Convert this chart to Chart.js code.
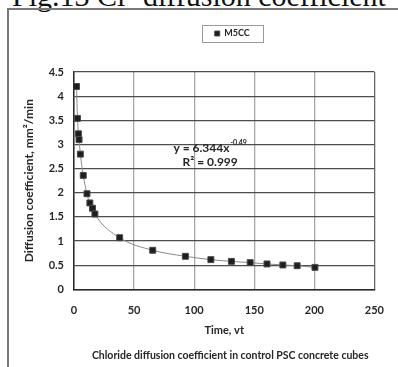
<!DOCTYPE html>
<html>
<head>
<meta charset="utf-8">
<script src="https://cdn.jsdelivr.net/npm/chart.js@4/dist/chart.umd.min.js"></script>
<style>
  html, body { margin: 0; padding: 0; background: #fff; }
  #wrap { position: relative; width: 398px; height: 367px; overflow: hidden; }
  #heading {
    position: absolute; left: 0; width: 398px; top: -21px;
    text-align: center; font: 30px "Liberation Serif", "DejaVu Serif", serif; color: #111;
    white-space: nowrap;
  }
  #frame {
    position: absolute; left: 7px; top: 8px; right: -5px; bottom: -5px;
    border-left: 2px solid #7a7a7a; border-top: 2px solid #7a7a7a;
  }
  canvas { position: absolute; left: 0; top: 0; }
</style>
</head>
<body>
<div id="wrap">
  <div id="heading">Fig.13 Cl- diffusion coefficient</div>
  <div id="frame"></div>
  <canvas id="c" width="398" height="367"></canvas>
</div>
<script>
// Time (vt) and measured chloride diffusion coefficient (mm²/min)
const seriesName = 'M5CC';
const timeValues = [2.1, 2.9, 3.7, 4.2, 5.3, 7.7, 10.8, 13.2, 15.4, 17.4, 38, 65.5, 92.7, 113.9, 131, 146.6, 160.6, 173.8, 185.7, 200.5];
const coeffValues = [4.2, 3.54, 3.22, 3.1, 2.8, 2.36, 1.98, 1.79, 1.68, 1.56, 1.07, 0.81, 0.685, 0.616, 0.58, 0.554, 0.527, 0.506, 0.49, 0.456];
const xTicks = [0, 50, 100, 150, 200, 250];
const yTicks = [0, 0.5, 1, 1.5, 2, 2.5, 3, 3.5, 4, 4.5];
const fitLines = ['y = 6.344x', '-0.49', 'R\u00B2 = 0.999'];
const xTitle = 'Time, vt';
const yTitle = 'Diffusion coefficient, mm\u00B2/min';
const caption = 'Chloride diffusion coefficient in control PSC concrete cubes';

const FONT = 'Lato, "Liberation Sans", Arial, sans-serif';
const TXT = '#262626';
const LEGEND_SHIFT = 8;
const CAPTION_SHIFT = 6;

const points = timeValues.map((t, i) => ({ x: t, y: coeffValues[i] }));

// Draw a layout box shifted sideways by dx pixels
function nudge(chart, box, dx) {
  const draw = box.draw.bind(box);
  box.draw = function () {
    const ctx = chart.ctx;
    ctx.save();
    ctx.translate(dx, 0);
    draw();
    ctx.restore();
  };
}

// Extra room under the legend, and small sideways nudges of legend and caption
const boxTweaks = {
  id: 'boxTweaks',
  beforeUpdate(chart) {
    const lg = chart.legend;
    if (lg && !lg._tweaked) {
      const fit = lg.fit.bind(lg);
      lg.fit = function () { fit(); this.height += 24; };
      nudge(chart, lg, LEGEND_SHIFT);
      lg._tweaked = true;
    }
    const tt = chart.titleBlock;
    if (tt && !tt._tweaked) {
      nudge(chart, tt, CAPTION_SHIFT);
      tt._tweaked = true;
    }
  }
};

// Border around the legend entry
const legendBox = {
  id: 'legendBox',
  afterDraw(chart) {
    const lg = chart.legend;
    if (!lg || !lg.legendHitBoxes || !lg.legendHitBoxes.length) return;
    const hb = lg.legendHitBoxes[0];
    const ctx = chart.ctx;
    ctx.save();
    ctx.strokeStyle = '#9a9a9a';
    ctx.lineWidth = 1;
    ctx.strokeRect(Math.round(hb.left + LEGEND_SHIFT - 13) + 0.5, Math.round(hb.top + hb.height / 2 - 8.5) + 0.5,
                   Math.round(hb.width + 26), 17);
    ctx.restore();
  }
};

// Regression equation text inside the plot
const fitLabel = {
  id: 'fitLabel',
  afterDatasetsDraw(chart) {
    const { ctx, scales: { x, y } } = chart;
    const cx = x.getPixelForValue(113.3);
    const y1 = y.getPixelForValue(2.93);
    const y2 = y.getPixelForValue(2.64);
    ctx.save();
    ctx.fillStyle = TXT;
    ctx.textBaseline = 'middle';
    ctx.font = 'bold 12px ' + FONT;
    const w1 = ctx.measureText(fitLines[0]).width;
    ctx.font = 'bold 7px ' + FONT;
    const w2 = ctx.measureText(fitLines[1]).width;
    const start = cx - (w1 + w2 + 1) / 2;
    ctx.font = 'bold 12px ' + FONT;
    ctx.textAlign = 'left';
    ctx.fillText(fitLines[0], start, y1);
    ctx.font = 'bold 7px ' + FONT;
    ctx.fillText(fitLines[1], start + w1 + 1, y1 - 5);
    ctx.font = 'bold 12px ' + FONT;
    ctx.textAlign = 'center';
    ctx.fillText(fitLines[2], cx, y2);
    ctx.restore();
  }
};

new Chart(document.getElementById('c'), {
  type: 'scatter',
  data: {
    datasets: [{
      label: seriesName,
      data: points,
      showLine: true,
      borderColor: '#8a8a8a',
      borderWidth: 1,
      cubicInterpolationMode: 'monotone',
      pointStyle: 'rect',
      pointRadius: 4.2,
      pointBackgroundColor: '#1e1e1e',
      pointBorderColor: '#4a4a4a',
      pointBorderWidth: 1
    }]
  },
  options: {
    responsive: false,
    animation: false,
    layout: { padding: { left: 18, right: 9, top: 20, bottom: 0 } },
    plugins: {
      legend: {
        position: 'top',
        fullSize: false,
        labels: {
          usePointStyle: true,
          pointStyle: 'rect',
          boxWidth: 5,
          boxHeight: 5,
          padding: 9,
          color: TXT,
          font: { family: FONT, size: 9, weight: 'bold' },
          generateLabels() {
            return [{
              text: seriesName, fillStyle: '#1e1e1e', strokeStyle: '#4a4a4a',
              lineWidth: 1, pointStyle: 'rect', datasetIndex: 0, fontColor: TXT
            }];
          }
        }
      },
      title: {
        display: true,
        position: 'bottom',
        fullSize: false,
        text: caption,
        color: TXT,
        font: { family: FONT, size: 10.5, weight: 'bold' },
        padding: { top: 0, bottom: 5 }
      },
      tooltip: { enabled: false }
    },
    scales: {
      x: {
        type: 'linear',
        min: 0, max: 250,
        afterBuildTicks(s) { s.ticks = xTicks.map(v => ({ value: v })); },
        afterFit(s) { s.height = 60; },
        ticks: { color: TXT, padding: 14, font: { family: FONT, size: 11, weight: 'bold' }, callback: v => String(v) },
        grid: {
          drawTicks: false,
          color: (c) => c.index === xTicks.length - 1 ? '#6a6a6a' : '#a8a8a8',
          lineWidth: 1.3
        },
        border: { color: '#2a2a2a', width: 1.5 },
        title: {
          display: true, text: xTitle, color: TXT,
          font: { family: FONT, size: 11, weight: 'bold' },
          padding: { top: 0, bottom: 12 }
        }
      },
      y: {
        type: 'linear',
        min: 0, max: 4.5,
        afterBuildTicks(s) { s.ticks = yTicks.map(v => ({ value: v })); },
        afterFit(s) { s.width = 56; },
        ticks: { color: TXT, padding: 10, font: { family: FONT, size: 11, weight: 'bold' }, callback: v => String(v) },
        grid: { drawTicks: false, color: '#4e4e4e', lineWidth: 1.3 },
        border: { color: '#2a2a2a', width: 1.5 },
        title: {
          display: true, text: yTitle, color: TXT,
          font: { family: FONT, size: 12, weight: 'bold' },
          padding: { top: 4, bottom: 0 }
        }
      }
    }
  },
  plugins: [boxTweaks, legendBox, fitLabel]
});
</script>
</body>
</html>
